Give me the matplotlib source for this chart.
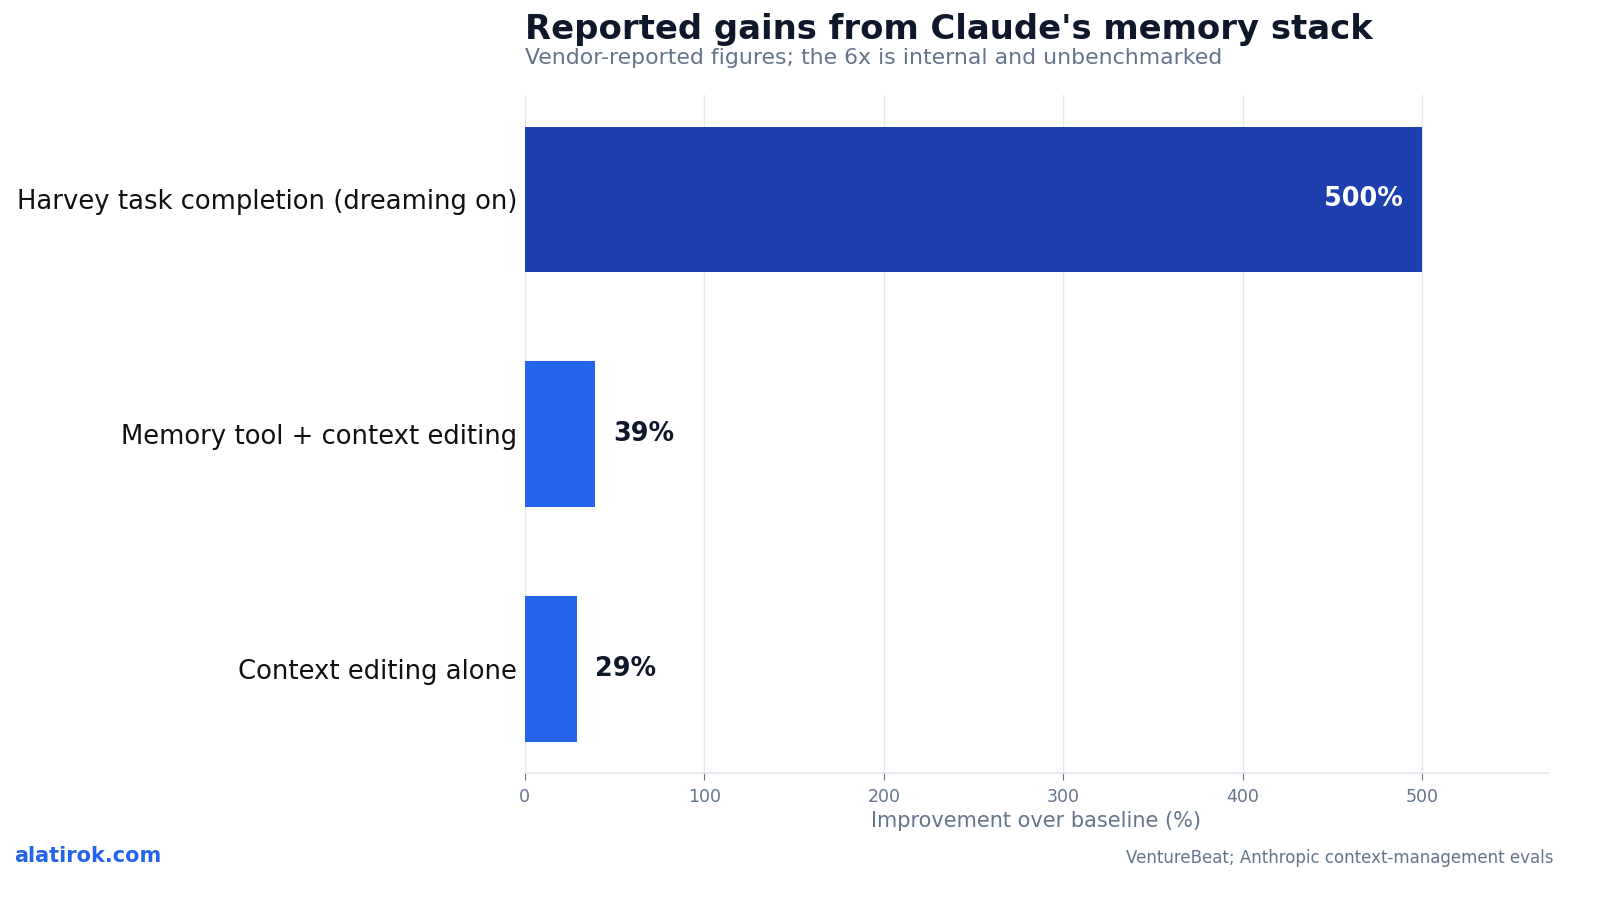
import matplotlib.pyplot as plt

# Data
categories = ["Context editing alone", "Memory tool + context editing", "Harvey task completion (dreaming on)"]
values = [29, 39, 500]
value_labels = ["29%", "39%", "500%"]
bar_colors = ["#2563eb", "#2563eb", "#1e40af"]
xticks = [0, 100, 200, 300, 400, 500]

fig = plt.figure(figsize=(16, 8.99), dpi=100)
ax = fig.add_axes([0.328, 0.140, 0.6395, 0.754])

y = range(len(categories))
ax.barh(y, values, height=0.62, color=bar_colors, zorder=3)

# value labels: inside for the long bar, outside for short ones
for i, (v, lab) in enumerate(zip(values, value_labels)):
    if v > 300:
        ax.text(v - 11, i, lab, ha="right", va="center", color="white",
                fontsize=18.4, fontweight="bold", zorder=4)
    else:
        ax.text(v + 10, i, lab, ha="left", va="center", color="#0f172a",
                fontsize=18.4, fontweight="bold", zorder=4)

ax.set_xlim(0, 570)
ax.set_ylim(-0.443, 2.443)
ax.set_yticks(list(y))
ax.set_yticklabels(categories, fontsize=18.6, color="#111111")
ax.set_xticks(xticks)
ax.set_xticklabels([str(t) for t in xticks], fontsize=12.5, color="#64748b")
ax.tick_params(axis="y", length=0, pad=5.5)
ax.tick_params(axis="x", length=5, color="#64748b", pad=6)
ax.set_xlabel("Improvement over baseline (%)", fontsize=15, color="#64748b", labelpad=3)

ax.grid(axis="x", color="#e2e8f0", linewidth=1, zorder=0)
for s in ["top", "right", "left"]:
    ax.spines[s].set_visible(False)
ax.spines["bottom"].set_color("#e2e8f0")
ax.spines["bottom"].set_linewidth(1.2)

# titles
fig.text(0.328, 0.967, "Reported gains from Claude's memory stack", fontsize=24.4,
         fontweight="bold", color="#0f172a", ha="left", va="center")
fig.text(0.328, 0.935, "Vendor-reported figures; the 6x is internal and unbenchmarked",
         fontsize=15.8, color="#64748b", ha="left", va="center")

# footer
fig.text(0.009, 0.048, "alatirok.com", fontsize=15, fontweight="bold",
         color="#2563eb", ha="left", va="center")
fig.text(0.971, 0.046, "VentureBeat; Anthropic context-management evals", fontsize=12,
         color="#64748b", ha="right", va="center")

fig.savefig("out.png", dpi=100)
